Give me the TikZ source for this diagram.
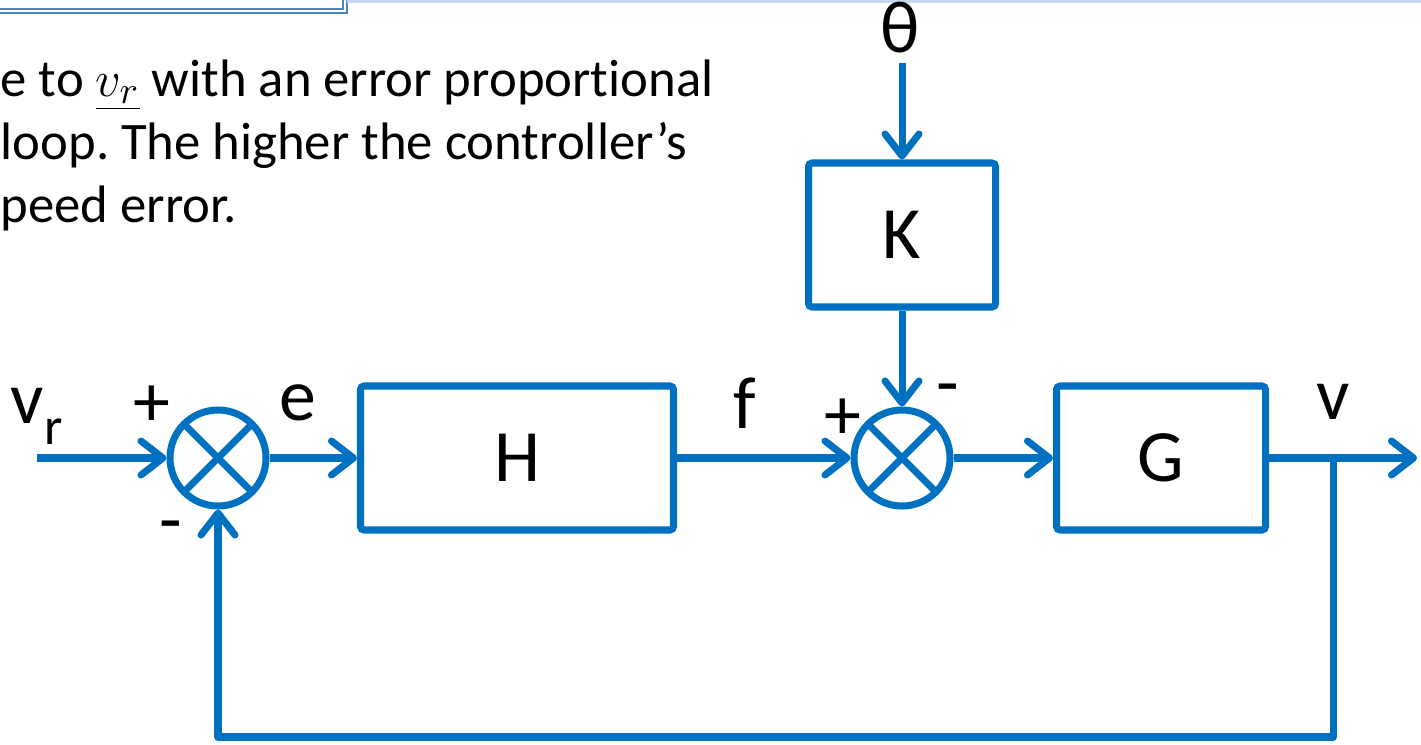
\documentclass[tikz,border=0pt]{standalone}
\usepackage{fontspec}
\setmainfont{Carlito}[Ligatures=NoCommon]
\usetikzlibrary{arrows.meta, positioning}
\definecolor{linkblue}{RGB}{0,112,192}
\definecolor{frameblue}{RGB}{79,129,189}
\definecolor{paleblue}{RGB}{198,217,241}
\frenchspacing

\begin{document}
\begin{tikzpicture}[
    blk/.style={rectangle, draw=linkblue, line width=2pt, rounded corners=1pt, minimum width=#1, minimum height=1.44cm, inner sep=0pt, font=\fontsize{21}{25}\selectfont},
    sumjoint/.style={circle, draw=linkblue, line width=2pt, minimum size=0.96cm, inner sep=0pt,
        path picture={\draw[linkblue, line width=2pt] (path picture bounding box.north west) -- (path picture bounding box.south east) (path picture bounding box.north east) -- (path picture bounding box.south west);}},
    sig/.style={draw=linkblue, line width=2pt, line join=round, -{Straight Barb[length=0.22cm, width=0.34cm, line cap=round, line join=round]}},
    lbl/.style={anchor=base, inner sep=0pt, font=\fontsize{21}{25}\selectfont},
    txt/.style={anchor=base west, inner sep=0pt, font=\fontsize{15}{18}\selectfont}
]
    \useasboundingbox (0,0) rectangle (14.21,7.44);

    % what is left of the slide
    \draw[frameblue, line width=0.6pt] (-0.1,7.31) -- (3.47,7.31) -- (3.47,7.6);
    \draw[frameblue, line width=0.6pt] (-0.1,7.35) -- (3.43,7.35) -- (3.43,7.6);
    \draw[paleblue, line width=1pt] (3.47,7.43) -- (14.3,7.43);
    \node[txt] (txtA) at (0,6.48) {e to $\underline{v_r}$ with an error proportional};
    \node[txt] (txtB) at (0,5.85) {loop. The higher the controller’s};
    \node[txt] (txtC) at (0,5.22) {peed error.};

    % blocks
    \node[sumjoint] (sumA) at (2.18,2.86) {};
    \node[blk=3.13cm] (hblk) at (5.17,2.86) {H};
    \node[sumjoint] (sumB) at (9.02,2.86) {};
    \node[blk=2.09cm] (gblk) at (11.61,2.86) {G};
    \node[blk=1.87cm] (kblk) at (9.02,5.09) {K};
    \node[lbl] (theta) at (9.00,6.91) {θ};

    \coordinate (vin) at (0.37,2.86);
    \coordinate (vout) at (14.17,2.86);
    \coordinate (tap) at (13.33,2.86);
    \coordinate (fbcorner) at (13.33,0.07);
    \coordinate (thetain) at (9.02,6.81);

    \draw[sig] (vin) -- (sumA);
    \draw[sig] (sumA) -- (hblk);
    \draw[sig] (hblk) -- (sumB);
    \draw[sig] (sumB) -- (gblk);
    \draw[sig] (gblk) -- (vout);
    \draw[sig] (thetain) -- (kblk);
    \draw[sig] (kblk) -- (sumB);
    \draw[sig] (tap) -- (fbcorner) -| (sumA);

    % signal names and signs
    \node[lbl, anchor=base west] (vrlbl) at (0.10,3.21) {v\raisebox{-6pt}{\fontsize{15}{18}\selectfont r}};
    \node[lbl] (elbl) at (2.98,3.24) {e};
    \node[lbl] (flbl) at (7.45,3.16) {f};
    \node[lbl] (vlbl) at (13.33,3.25) {v};
    \node[lbl] (plusA) at (1.52,3.18) {+};
    \node[lbl] (minusA) at (1.71,2.00) {-};
    \node[lbl] (plusB) at (8.43,3.05) {+};
    \node[lbl] (minusB) at (9.48,3.37) {-};
\end{tikzpicture}
\end{document}
